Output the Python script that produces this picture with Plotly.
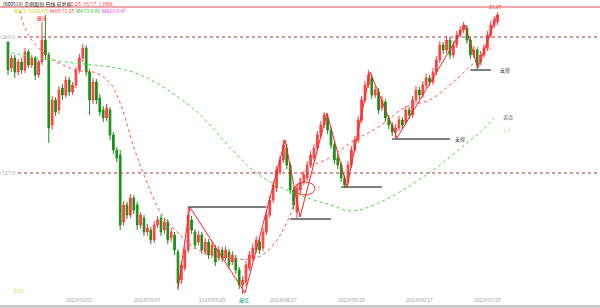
import plotly.graph_objects as go

# ---------------- data ----------------
day_index = list(range(145))
open_ = [258,232,242,228,238,230,248,235,242,225,238,260,245,175,200,190,212,205,220,208,
         215,230,242,252,228,200,218,202,190,182,190,165,150,145,78,95,85,102,95,75,
         82,68,70,60,75,82,70,78,62,65,48,20,32,50,80,68,58,65,48,58,
         45,52,42,50,42,48,38,42,30,15,18,32,42,50,58,52,68,85,100,112,
         128,140,152,135,110,88,110,118,122,135,142,152,165,175,182,170,155,142,135,122,
         118,135,150,160,180,200,215,222,205,208,192,198,182,175,168,172,180,178,190,185,
         200,210,205,215,222,218,228,240,255,250,260,245,255,265,270,272,260,245,250,238,
         245,252,265,275,278]
high = [264,245,245,241,242,252,251,245,244,240,278,285,248,204,203,214,216,224,223,218,
        233,246,256,255,231,222,221,206,194,196,193,168,153,150,99,98,106,105,98,88,
        85,76,73,79,84,85,82,81,72,68,51,39,54,93,84,71,69,68,62,61,
        59,55,54,53,54,51,49,45,33,24,39,49,56,64,61,72,89,104,119,134,
        144,160,156,138,113,116,122,129,139,149,156,169,179,188,186,173,158,146,138,125,
        139,154,164,184,204,219,230,226,214,212,204,201,185,178,176,184,183,194,193,204,
        214,213,219,226,225,232,244,259,258,264,263,259,269,274,278,275,263,254,253,249,
        256,269,279,284,288]
low = [225,228,222,225,226,227,232,232,220,222,235,240,157,170,184,186,200,202,204,205,
       212,227,238,224,185,196,196,184,178,179,160,146,138,70,74,81,82,86,70,71,
       64,64,56,57,72,64,66,56,58,45,10,16,29,47,66,51,55,46,45,41,
       42,34,39,38,39,31,35,26,11,6,14,29,39,47,46,49,65,82,97,108,
       125,137,131,106,91,82,106,115,119,132,139,149,162,172,166,151,136,131,118,112,
       115,132,147,157,177,197,212,201,202,186,189,178,171,164,162,169,171,175,181,182,
       197,201,202,212,214,215,225,237,246,247,241,242,252,262,267,256,241,242,230,235,
       242,249,262,272,275]
close = [230,242,228,238,230,248,235,242,225,238,260,245,172,200,188,210,205,220,208,215,
         230,242,252,228,200,218,200,188,182,192,165,150,142,75,95,85,102,90,75,85,
         68,72,60,75,80,68,78,60,68,50,17,35,50,85,70,55,65,50,58,45,
         55,38,50,42,50,35,45,30,15,20,35,45,52,60,50,68,85,100,115,130,
         140,155,135,110,95,112,118,125,135,145,152,165,175,185,170,155,140,135,122,115,
         135,150,160,180,200,215,225,205,210,190,200,182,175,168,172,180,175,190,185,200,
         210,205,215,222,218,228,240,255,250,260,245,255,265,270,275,260,245,250,235,245,
         252,265,275,280,285]

# moving averages (read at sparse days)
ma_red_days = [3,6,12,20,26,30,33,37,40,45,50,56,65,73,78,83,87,95,102,109,117,124,131,137,143]
ma_red_vals = [295,265,243,230,227,217,197,153,125,87,67,50,42,42,55,85,128,143,160,173,193,200,218,237,255]
ma_green_days = [1,9,17,25,32,39,47,56,66,73,84,95,101,109,123,135,139,143]
ma_green_vals = [247,242,238,235,232,225,210,187,150,127,107,95,89,97,125,157,168,182]

# zigzag swing points
zz_days = [50,53.5,69.7,81.5,85.9,93.8,99.7,106.5,114.4,134.4,138.2,143.8]
zz_vals = [12,93,7,160,83,187,113,228,162,275,232,285]

# support lines: (start day, end day, level)
sup_start = [53,83,98,113,136]
sup_end = [76,95,110,130,142]
sup_level = [93,81,113,161,230]

# reference dotted levels
ref_levels = [263,127]
ref_labels = ["263.0","127.0"]

tick_days = [21,41,60,81,101,121,141]
tick_text = ["2023/02/01","2023/03/01","2023/03/29","2023/04/27","2023/05/29","2023/06/27","2023/07/25"]

# ---------------- figure ----------------
fig = go.Figure()

fig.add_trace(go.Candlestick(
    x=day_index, open=open_, high=high, low=low, close=close,
    increasing=dict(line=dict(color='#ff3a3a', width=1), fillcolor='#ff4a4a'),
    decreasing=dict(line=dict(color='#1a8f1a', width=1), fillcolor='#1a8f1a'),
    whiskerwidth=0, showlegend=False, hoverinfo='skip'))

fig.add_trace(go.Scatter(x=ma_red_days, y=ma_red_vals, mode='lines', line_shape='spline',
                         line=dict(color='#ff5050', width=1, dash='dot'), showlegend=False, hoverinfo='skip'))
fig.add_trace(go.Scatter(x=ma_green_days, y=ma_green_vals, mode='lines', line_shape='spline',
                         line=dict(color='#44dd33', width=1, dash='dot'), showlegend=False, hoverinfo='skip'))
fig.add_trace(go.Scatter(x=zz_days, y=zz_vals, mode='lines',
                         line=dict(color='#ff2020', width=1), showlegend=False, hoverinfo='skip'))

for s, e, v in zip(sup_start, sup_end, sup_level):
    fig.add_trace(go.Scatter(x=[s, e], y=[v, v], mode='lines',
                             line=dict(color='#555555', width=1.5), showlegend=False, hoverinfo='skip'))

for lv, lb in zip(ref_levels, ref_labels):
    fig.add_hline(y=lv, line=dict(color='#b03030', width=1, dash='dot'))
    fig.add_annotation(x=0, xref='paper', y=lv, yref='y', text=lb, showarrow=False,
                       xanchor='left', font=dict(size=5, color='#999999'), bgcolor='white')

# ellipse and marks
fig.add_shape(type='circle', x0=84.4, x1=90.3, y0=105, y1=118, xref='x', yref='y',
              line=dict(color='#ff3030', width=1))
fig.add_annotation(x=91.5, y=113, text='↑', showarrow=False, font=dict(size=7, color='#ff3030'))

small = dict(size=5, family='Noto Sans CJK SC')
fig.add_annotation(x=10, y=282, text='最高', showarrow=False, yanchor='middle', font=dict(small, color='#ff3030'))
fig.add_annotation(x=69.5, y=6, text='最低', showarrow=False, yanchor='top', font=dict(small, color='#22aa88'))
fig.add_annotation(x=143.5, y=288, text='21.87', showarrow=False, yanchor='bottom', font=dict(small, color='#ff3030'))
fig.add_annotation(x=131, y=161, text='支撑', showarrow=False, xanchor='left', font=dict(small, color='#333333'))
fig.add_annotation(x=144, y=230, text='支撑', showarrow=False, xanchor='left', font=dict(small, color='#333333'))
fig.add_annotation(x=145, y=183, text='买点', showarrow=False, xanchor='left', font=dict(small, color='#333333'))
fig.add_annotation(x=145, y=172, text='↓↓', showarrow=False, xanchor='left', font=dict(size=8, color='#99cc00'))

# header texts
fig.add_annotation(x=0.002, y=1.0139, xref='paper', yref='paper', yanchor='middle', xanchor='left', showarrow=False,
                   text='[600519] 示例股份 日线 前复权', font=dict(size=5, color='#222222', family='Noto Sans CJK SC'))
fig.add_annotation(x=0.11, y=1.0139, xref='paper', yref='paper', yanchor='middle', xanchor='left', showarrow=False,
                   text='10.25  +0.17  1.68%', font=dict(size=5, color='#ff3030'))
fig.add_annotation(x=0.02, y=0.991, xref='paper', yref='paper', yanchor='middle', xanchor='left', showarrow=False,
                   text="<span style='color:#cccc00'>MA(5,10,20,60)</span> <span style='color:#ff4040'>MA5:10.25</span> "
                        "<span style='color:#33bb33'>MA10:9.86</span> <span style='color:#ee33ee'>MA20:9.41</span>",
                   font=dict(size=5))
fig.add_annotation(x=0.02, y=4, yref='y', xref='paper', yanchor='bottom', xanchor='left', showarrow=False,
                   text='0.01', font=dict(size=5, color='#cccc00'))

fig.add_shape(type='line', xref='paper', yref='paper', x0=0, x1=1, y0=1.0035, y1=1.0035,
              line=dict(color='#dd5050', width=1))
fig.add_shape(type='rect', xref='paper', yref='paper', x0=0, x1=1, y0=-0.031, y1=-0.042,
              line=dict(width=0), fillcolor='#c8c8c8')

fig.update_layout(
    width=600, height=308, margin=dict(l=0, r=0, t=8, b=12),
    paper_bgcolor='white', plot_bgcolor='white',
    xaxis=dict(range=[-2.35, 174.12], rangeslider=dict(visible=False), showgrid=False, zeroline=False,
               tickvals=tick_days, ticktext=tick_text, tickfont=dict(size=5, color='#999999'),
               ticks='', showline=False),
    yaxis=dict(range=[4, 292], visible=False, showgrid=False, zeroline=False),
)

fig.write_html("out.html")
